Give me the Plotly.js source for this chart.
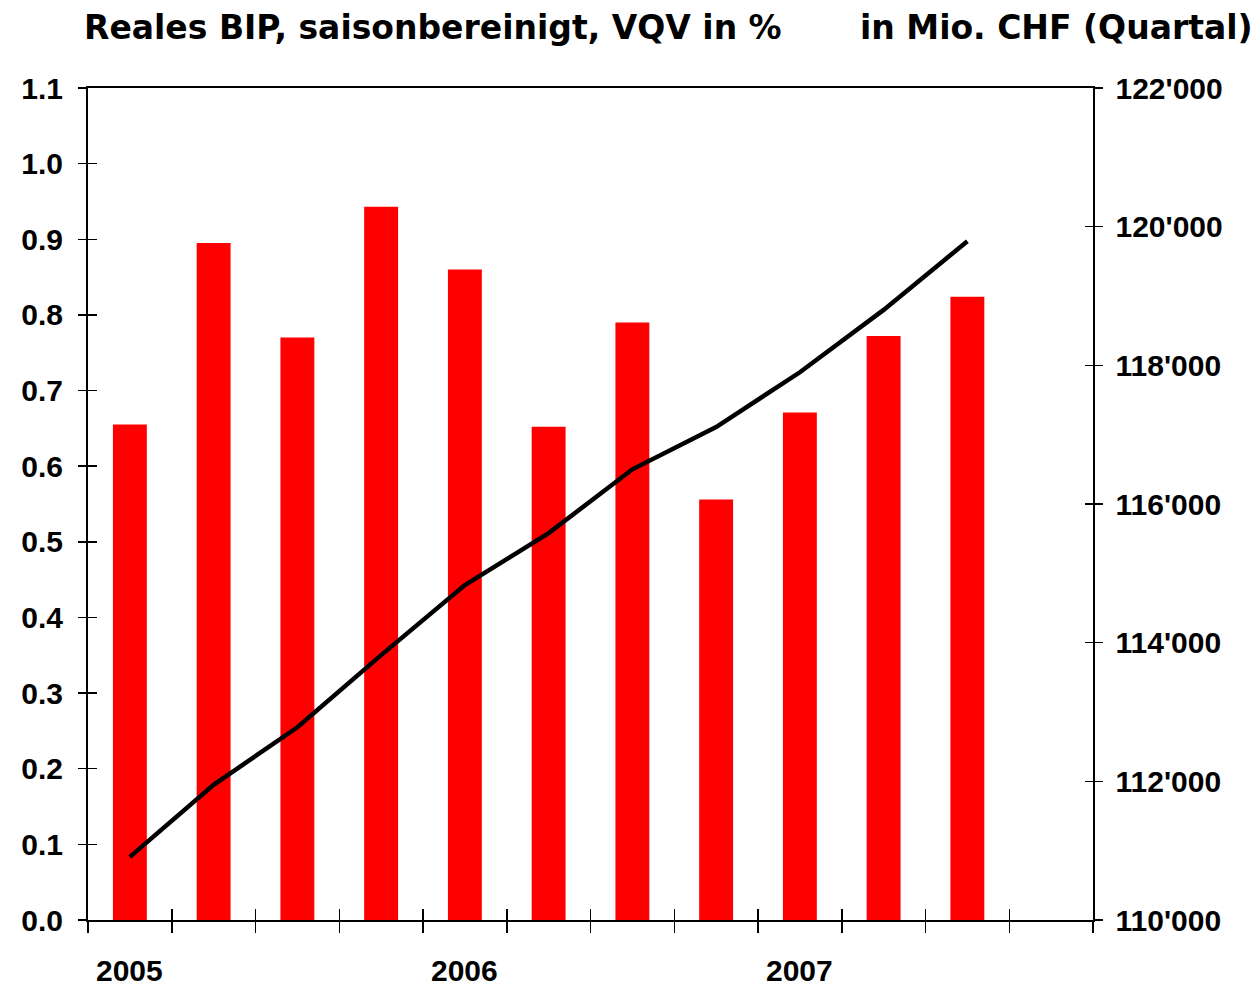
<!DOCTYPE html>
<html>
<head>
<meta charset="utf-8">
<script src="https://cdn.plot.ly/plotly-3.0.1.min.js"></script>
<style>
html,body{margin:0;padding:0;background:#fff;}
#chart{width:1259px;height:987px;}
</style>
</head>
<body>
<div id="chart"></div>
<script>
// Quarters 2005Q1 .. 2007Q3
const quarters = ['2005Q1','2005Q2','2005Q3','2005Q4','2006Q1','2006Q2','2006Q3','2006Q4','2007Q1','2007Q2','2007Q3'];
// Real GDP, seasonally adjusted, change vs previous quarter in %
const gdpGrowth = [0.655, 0.895, 0.770, 0.943, 0.860, 0.652, 0.790, 0.556, 0.671, 0.772, 0.824];
// Real GDP level in Mio. CHF (quarter)
const gdpLevel = [110910, 111950, 112780, 113820, 114830, 115580, 116500, 117110, 117900, 118800, 119790];
// Year labels
const years = ['2005','2006','2007'];

const xIdx = quarters.map((q,i)=>i);
const nSlots = 12;
const boundaries = [];
for (let k=0;k<=nSlots;k++) boundaries.push(k-0.5);
const yearPos = years.map(y => quarters.indexOf(y+'Q1'));

const labelFont = {family:'"Liberation Sans", Arial, sans-serif', size:30, color:'#000', weight:'bold'};
const titleFont = {family:'"DejaVu Sans", sans-serif', size:33, color:'#000', weight:'bold'};

const traces = [
  {type:'bar', x:xIdx, y:gdpGrowth, xaxis:'x', yaxis:'y', width:0.405,
   marker:{color:'#ff0000', line:{width:0}}, hoverinfo:'skip'},
  {type:'scatter', mode:'lines', x:xIdx, y:gdpLevel, xaxis:'x', yaxis:'y2',
   line:{color:'#000', width:4.5}, hoverinfo:'skip'}
];

const xr = [-0.5, nSlots-0.5];
const layout = {
  width:1259, height:987,
  margin:{l:88, r:166, t:88, b:67},
  paper_bgcolor:'#fff', plot_bgcolor:'#fff',
  showlegend:false,
  separators:".'",
  xaxis:{range:xr, tickvals:boundaries, ticks:'outside', ticklen:11, tickwidth:1.5, tickcolor:'#000',
         showticklabels:false, showgrid:false, zeroline:false, showline:true, linecolor:'#000', linewidth:2, mirror:true, fixedrange:true},
  xaxis2:{range:xr, overlaying:'x', tickvals:boundaries, ticks:'inside', ticklen:11, tickwidth:1.5, tickcolor:'#000',
         showticklabels:false, showgrid:false, zeroline:false, showline:false, fixedrange:true},
  yaxis:{range:[0,1.1], dtick:0.1, tick0:0, tickformat:'.1f', ticks:'outside', ticklen:8, tickwidth:1.5, tickcolor:'#000',
         ticklabelstandoff:9,
         tickfont:labelFont, showgrid:false, zeroline:false, showline:true, linecolor:'#000', linewidth:2, fixedrange:true},
  yaxis3:{range:[0,1.1], dtick:0.1, tick0:0, overlaying:'y', side:'left', ticks:'inside', ticklen:9, tickwidth:1.5, tickcolor:'#000',
         showticklabels:false, showgrid:false, zeroline:false, showline:false, fixedrange:true},
  yaxis2:{range:[110000,122000], dtick:2000, tick0:110000, tickformat:',d', overlaying:'y', side:'right',
         ticks:'outside', ticklen:8, tickwidth:1.5, tickcolor:'#000', tickfont:labelFont, ticklabelstandoff:7,
         showgrid:false, zeroline:false, showline:true, linecolor:'#000', linewidth:1.5, fixedrange:true},
  yaxis4:{range:[110000,122000], dtick:2000, tick0:110000, overlaying:'y', side:'right',
         ticks:'inside', ticklen:8, tickwidth:1.5, tickcolor:'#000', showticklabels:false,
         showgrid:false, zeroline:false, showline:false, fixedrange:true},
  annotations: [
    ...years.map((y,i)=>({text:y, x:yearPos[i], xref:'x', y:0, yref:'paper', yanchor:'middle', xanchor:'center',
        yshift:-50, showarrow:false, font:labelFont})),
    {text:'Reales BIP, saisonbereinigt, VQV in %', xref:'paper', yref:'paper', x:-0.006, y:1, xanchor:'left', yanchor:'middle',
     yshift:61, showarrow:false, font:titleFont},
    {text:'in Mio. CHF (Quartal)', xref:'paper', yref:'paper', x:1.1615, y:1, xanchor:'right', yanchor:'middle',
     yshift:61, showarrow:false, font:titleFont}
  ]
};
// dummy traces to activate overlay axes
traces.push({type:'scatter', x:[], y:[], xaxis:'x2', yaxis:'y3', hoverinfo:'skip'});
traces.push({type:'scatter', x:[], y:[], xaxis:'x', yaxis:'y4', hoverinfo:'skip'});

Plotly.newPlot('chart', traces, layout, {displayModeBar:false, staticPlot:true});
</script>
</body>
</html>
